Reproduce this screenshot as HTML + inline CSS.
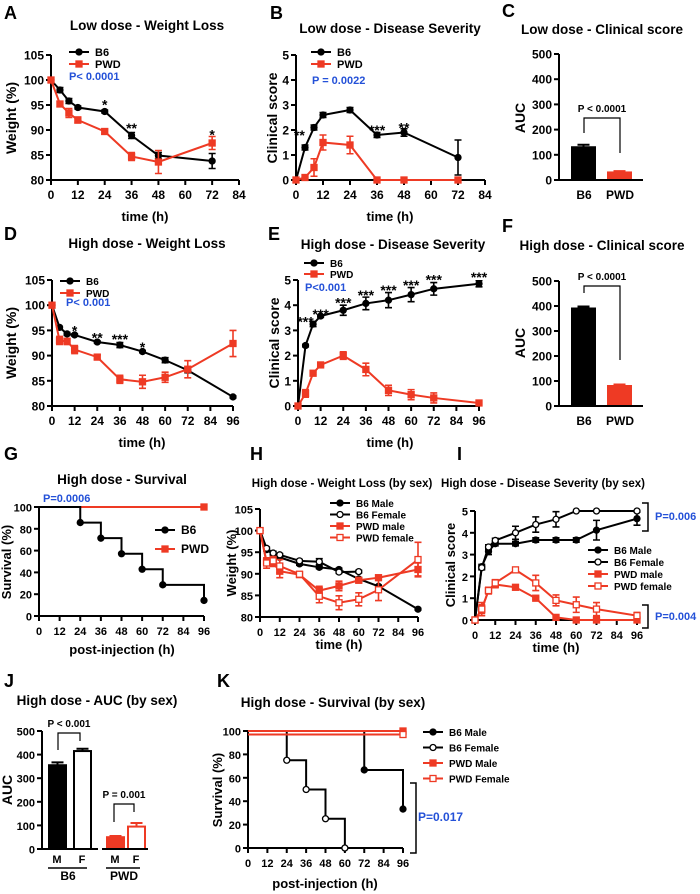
<!DOCTYPE html>
<html><head><meta charset="utf-8"><style>
html,body{margin:0;padding:0;background:#fff;}
svg{display:block;font-family:"Liberation Sans",Arial,sans-serif;font-weight:bold;}
</style></head><body>
<svg id="fig" width="700" height="894" viewBox="0 0 700 894" xmlns="http://www.w3.org/2000/svg"></svg>
<script>
const RED='#ee3a24', BLUE='#2451d8';
// ---- Panel A: Low dose weight loss
const aTimes=[0,4,8,12,24,36,48,72];
const aB6=[100,98,95.8,94.5,93.7,88.9,84.9,83.8];
const aB6Err=[0.2,0.5,0.5,0.3,0.3,0.6,0.6,1.5];
const aPWD=[100,95.2,93.4,92,89.7,84.7,83.6,87.4];
const aPWDErr=[0.2,0.5,0.9,0.6,0.5,0.8,2.3,1.3];
const aStarT=[24,36,72], aStarY=[95.3,90.6,89.3], aStarL=['*','**','*'];
// ---- Panel B: Low dose disease severity
const bTimes=[0,4,8,12,24,36,48,72];
const bB6=[0,1.3,2.1,2.6,2.8,1.8,1.9,0.9];
const bB6Err=[0,0.1,0.1,0.1,0.1,0.1,0.15,0.7];
const bPWD=[0,0.1,0.5,1.5,1.4,0,0,0];
const bPWDErr=[0,0.1,0.35,0.3,0.35,0,0,0];
const bStarT=[1.5,36,48], bStarY=[1.85,2.05,2.15], bStarL=['**','***','**'];
// ---- Panel C / F: AUC
const cCats=['B6','PWD'], cVals=[130,30], cErr=[10,5];
const fCats=['B6','PWD'], fVals=[390,80], fErr=[8,6];
// ---- Panel D: High dose weight loss
const dTimes=[0,4,8,12,24,36,48,60,72,96];
const dB6=[100,95.6,94.3,94.1,92.7,92.1,90.8,89.1,87.1,81.8];
const dB6Err=[0,0.2,0.3,0.2,0.2,0.5,0.2,0.5,0.5,0.2];
const dPWD=[100,93,92.8,91.2,89.7,85.3,84.8,85.7,87.3,92.4];
const dPWDErr=[0,0.8,0.6,0.8,0.4,0.8,1.3,1,1.7,2.6];
const dStarT=[12,24,36,48], dStarY=[95.2,93.8,93.5,91.9], dStarL=['*','**','***','*'];
// ---- Panel E: High dose disease severity
const eTimes=[0,4,8,12,24,36,48,60,72,96];
const eB6=[0,2.4,3.25,3.57,3.8,4.07,4.2,4.42,4.65,4.85];
const eB6Err=[0,0.05,0.1,0.05,0.2,0.25,0.3,0.28,0.25,0.12];
const ePWD=[0,0.5,1.3,1.63,2.0,1.45,0.62,0.45,0.32,0.12];
const ePWDErr=[0,0.15,0.05,0.05,0.15,0.25,0.2,0.2,0.2,0.1];
const eStarT=[4,12,24,36,48,60,72,96], eStarY=[3.4,3.7,4.15,4.45,4.65,4.85,5.05,5.15];
const eStarL=['***','***','***','***','***','***','***','***'];
// ---- Panel G: survival
const gTimes=[0,24,36,48,60,72,96];
const gB6=[100,85.7,71.4,57.1,42.9,28.6,14.3];
const gPWDTimes=[0,96], gPWD=[100,100];
// ---- Panel H: weight by sex
const hTimes=[0,4,8,12,24,36,48,60,72,96];
const hB6M=[100,95.6,94.5,93.8,92.3,91.5,91.0,88.8,87.1,81.8];
const hB6MErr=[0,0.3,0.5,0.4,0.3,0.3,0.3,0.3,0.3,0.2];
const hB6FTimes=[0,4,8,12,24,36,48,60];
const hB6F=[100,95.9,94.8,94.4,93.0,92.8,90.4,90.5];
const hB6FErr=[0,0.3,0.4,0.3,0.3,0.7,0.3,0.3];
const hPWDm=[100,92.8,92.5,90.6,89.8,86.1,87.2,88.5,89.1,91.0];
const hPWDmErr=[0,0.8,0.8,1.5,0.4,1.0,1.1,0.4,0.4,1.5];
const hPWDf=[100,92.5,93,91.8,89.9,84.8,83.3,84.1,86.3,93.3];
const hPWDfErr=[0,1.2,1,1.5,0.5,1.5,1.6,1.5,2.5,4];
// ---- Panel I: severity by sex
const iTimes=[0,4,8,12,24,36,48,60,72,96];
const iB6M=[0,2.45,3.15,3.5,3.5,3.67,3.67,3.67,4.12,4.65];
const iB6MErr=[0,0.1,0.15,0.1,0.1,0.1,0.1,0.1,0.45,0.3];
const iB6F=[0,2.4,3.35,3.65,4.0,4.38,4.62,5,5,5];
const iB6FErr=[0,0.1,0.1,0.1,0.3,0.35,0.35,0,0,0];
const iPWDm=[0,0.5,1.35,1.63,1.5,1.0,0.12,0,0,0];
const iPWDmErr=[0,0.2,0.15,0.15,0.05,0.05,0.1,0,0,0];
const iPWDf=[0,0.5,1.35,1.7,2.3,1.7,0.9,0.7,0.5,0.2];
const iPWDfErr=[0,0.3,0.15,0.15,0.08,0.35,0.25,0.35,0.3,0.15];
// ---- Panel J: AUC by sex
const jGroups=['M','F','M','F'], jVals=[355,415,50,95], jErr=[12,10,5,15];
// ---- Panel K: survival by sex
const kB6MTimes=[0,72,96], kB6M=[100,66.7,33.3];
const kB6FTimes=[0,24,36,48,60], kB6F=[100,75,50,25,0];
const kPWDMTimes=[0,96], kPWDM=[100,100];
const kPWDFTimes=[0,96], kPWDF=[97,97];

const NS='http://www.w3.org/2000/svg';
const svg=document.getElementById('fig');
function mk(tag,attrs,name,parent){
  const e=document.createElementNS(NS,tag);
  for(const k in attrs) e.setAttribute(k,attrs[k]);
  
  
  (parent||svg).appendChild(e);return e;
}
function txt(x,y,s,size,name,opt){
  opt=opt||{};
  const a={x:x,y:y,'font-size':size,fill:opt.fill||'#000','text-anchor':opt.anchor||'start'};
  if(opt.rot) a.transform='rotate(-90 '+x+' '+y+')';
  const t=mk('text',a,name,opt.parent);t.textContent=s;return t;
}
function axes(c){
  const g=mk('g',{},c.name+'-axes');
  const xs=v=>c.x0+(v-c.xmin)/(c.xmax-c.xmin)*(c.x1-c.x0);
  const ys=v=>c.yb-(v-c.ymin)/(c.ymax-c.ymin)*(c.yb-c.yt);
  if(c.xticks){
    mk('line',{x1:c.x0,x2:c.x1,y1:c.yb,y2:c.yb,stroke:'#000','stroke-width':2},c.name+'-x-axis',g);
    c.xticks.forEach(t=>{mk('line',{x1:xs(t),x2:xs(t),y1:c.yb,y2:c.yb+5,stroke:'#000','stroke-width':2},'x-tick',g);
      txt(xs(t),c.yb+19,String(t),c.tickSize||12,'x-tick-label',{anchor:'middle',parent:g});});
  }
  mk('line',{x1:c.x0,x2:c.x0,y1:c.yb,y2:c.yt,stroke:'#000','stroke-width':2},c.name+'-y-axis',g);
  c.yticks.forEach(t=>{mk('line',{x1:c.x0-5,x2:c.x0,y1:ys(t),y2:ys(t),stroke:'#000','stroke-width':2},'y-tick',g);
    txt(c.x0-7,ys(t)+4.5,String(t),c.tickSize||12,'y-tick-label',{anchor:'end',parent:g});});
  return {xs,ys,g};
}
function marker(x,y,type,color,parent,name){
  if(type==='circle'||type==='ocircle')
    mk('circle',{cx:x,cy:y,r:3,fill:type==='circle'?color:'#fff',stroke:color,'stroke-width':1.3},name,parent);
  else
    mk('rect',{x:x-3,y:y-3,width:6,height:6,fill:type==='square'?color:'#fff',stroke:color,'stroke-width':1.3},name,parent);
}
function series(ax,t,v,e,color,type,name){
  const g=mk('g',{},name);
  mk('polyline',{points:t.map((tt,i)=>ax.xs(tt)+','+ax.ys(v[i])).join(' '),fill:'none',stroke:color,'stroke-width':2},name+'-line',g);
  if(e) t.forEach((tt,i)=>{ if(!e[i]) return; const x=ax.xs(tt),y1=ax.ys(v[i]-e[i]),y2=ax.ys(v[i]+e[i]);
    mk('path',{d:`M${x},${y1}V${y2}M${x-3.5},${y1}H${x+3.5}M${x-3.5},${y2}H${x+3.5}`,stroke:color,'stroke-width':1.6,fill:'none'},name+'-errorbar',g);});
  t.forEach((tt,i)=>marker(ax.xs(tt),ax.ys(v[i]),type,color,g,name+'-point'));
}
function steps(ax,t,v,color,type,name,markFirst){
  const g=mk('g',{},name);
  let d='M'+ax.xs(t[0])+','+ax.ys(v[0]);
  for(let i=1;i<t.length;i++) d+='H'+ax.xs(t[i])+'V'+ax.ys(v[i]);
  mk('path',{d:d,fill:'none',stroke:color,'stroke-width':2},name+'-line',g);
  t.forEach((tt,i)=>{ if(i>0||markFirst) marker(ax.xs(tt),ax.ys(v[i]),type,color,g,name+'-point');});
}
function stars(ax,t,y,l,name){
  t.forEach((tt,i)=>txt(ax.xs(tt),ax.ys(y[i])+6,l[i],14,name,{anchor:'middle'}));
}
function legend(x,y,dy,items,size){
  items.forEach((it,i)=>{
    const yy=y+i*dy;
    mk('line',{x1:x,x2:x+20,y1:yy,y2:yy,stroke:it.c,'stroke-width':2},'legend-line-'+it.n,svg);
    marker(x+10,yy,it.m,it.c,svg,'legend-marker-'+it.n);
    txt(x+26,yy+4,it.l,size||11,'legend-entry-'+it.n);
  });
}
function barChart(c,cats,vals,errs,colors,fills){
  const ax=axes(c);
  cats.forEach((cat,i)=>{
    const bx=c.bx[i], w=c.bw;
    mk('rect',{x:bx,y:ax.ys(vals[i]),width:w,height:c.yb-ax.ys(vals[i]),fill:fills[i],stroke:colors[i],'stroke-width':2},'bar-'+cat.toLowerCase()+'-'+i);
    const cx=bx+w/2;
    mk('path',{d:`M${cx},${ax.ys(vals[i])}V${ax.ys(vals[i]+errs[i])}M${cx-6},${ax.ys(vals[i]+errs[i])}H${cx+6}`,stroke:colors[i],'stroke-width':2,fill:'none'},'bar-errorbar');
  });
  return ax;
}
// Letters & titles
[['A',4,19],['B',270,19],['C',502,17],['D',4,240],['E',268,240],['F',502,232],['G',4,460],['H',250,460],['I',457,460],['J',4,687],['K',217,687]]
 .forEach(l=>txt(l[1],l[2],l[0],18,'panel-letter-'+l[0].toLowerCase()));
[['Low dose - Weight Loss',147,30],['Low dose - Disease Severity',390,33],['Low dose - Clinical score',602,34],
 ['High dose - Weight Loss',147,248],['High dose - Disease Severity',393,249],['High dose - Clinical score',602,250],
 ['High dose - Survival',122,484],['High dose - Weight Loss (by sex)',342,487],['High dose - Disease Severity (by sex)',543,487],
 ['High dose - AUC (by sex)',97,705],['High dose - Survival (by sex)',333,707]]
 .forEach((t,i)=>txt(t[1],t[2],t[0],i===7||i===8?11.5:13.5,'panel-title',{anchor:'middle'}));

// A
let ax=axes({name:'a',x0:51,x1:239,xmin:0,xmax:84,yb:180,yt:55,ymin:80,ymax:105,xticks:[0,12,24,36,48,60,72,84],yticks:[80,85,90,95,100,105]});
series(ax,aTimes,aB6,aB6Err,'#000','circle','a-b6-series');
series(ax,aTimes,aPWD,aPWDErr,RED,'square','a-pwd-series');
stars(ax,aStarT,aStarY,aStarL,'a-significance');
legend(69,52,12,[{n:'b6',l:'B6',c:'#000',m:'circle'},{n:'pwd',l:'PWD',c:RED,m:'square'}]);
txt(69,80,'P< 0.0001',11,'a-p-value',{fill:BLUE});
txt(16,118,'Weight (%)',14,'a-y-axis-title',{anchor:'middle',rot:1});
txt(145,221,'time (h)',13,'a-x-axis-title',{anchor:'middle'});
// B
ax=axes({name:'b',x0:296,x1:485,xmin:0,xmax:84,yb:180,yt:55,ymin:0,ymax:5,xticks:[0,12,24,36,48,60,72,84],yticks:[0,1,2,3,4,5]});
series(ax,bTimes,bB6,bB6Err,'#000','circle','b-b6-series');
series(ax,bTimes,bPWD,bPWDErr,RED,'square','b-pwd-series');
stars(ax,bStarT,bStarY,bStarL,'b-significance');
legend(311,52,12,[{n:'b6',l:'B6',c:'#000',m:'circle'},{n:'pwd',l:'PWD',c:RED,m:'square'}]);
txt(312,84,'P = 0.0022',11,'b-p-value',{fill:BLUE});
txt(277,118,'Clinical score',14,'b-y-axis-title',{anchor:'middle',rot:1});
txt(390,221,'time (h)',13,'b-x-axis-title',{anchor:'middle'});
// C
ax=barChart({name:'c',x0:559,yb:180,yt:54,ymin:0,ymax:500,yticks:[0,100,200,300,400,500],bx:[572,608],bw:23},cCats,cVals,cErr,['#000',RED],['#000',RED]);
mk('line',{x1:559,x2:643,y1:180,y2:180,stroke:'#000','stroke-width':2},'c-x-axis');
txt(584,199,'B6',12,'c-x-label',{anchor:'middle'});txt(620,199,'PWD',12,'c-x-label',{anchor:'middle'});
mk('path',{d:'M584,133V118H620V153',fill:'none',stroke:'#000','stroke-width':1.2},'c-significance-bracket');
txt(602,112,'P < 0.0001',10,'c-p-value',{anchor:'middle'});
txt(525,118,'AUC',14,'c-y-axis-title',{anchor:'middle',rot:1});
// D
ax=axes({name:'d',x0:52,x1:233,xmin:0,xmax:96,yb:406,yt:280,ymin:80,ymax:105,xticks:[0,12,24,36,48,60,72,84,96],yticks:[80,85,90,95,100,105]});
series(ax,dTimes,dB6,dB6Err,'#000','circle','d-b6-series');
series(ax,dTimes,dPWD,dPWDErr,RED,'square','d-pwd-series');
stars(ax,dStarT,dStarY,dStarL,'d-significance');
legend(60,281,12,[{n:'b6',l:'B6',c:'#000',m:'circle'},{n:'pwd',l:'PWD',c:RED,m:'square'}],10);
txt(66,306,'P< 0.001',11,'d-p-value',{fill:BLUE});
txt(16,343,'Weight (%)',14,'d-y-axis-title',{anchor:'middle',rot:1});
txt(142,447,'time (h)',13,'d-x-axis-title',{anchor:'middle'});
// E
ax=axes({name:'e',x0:298,x1:479,xmin:0,xmax:96,yb:406,yt:280,ymin:0,ymax:5,xticks:[0,12,24,36,48,60,72,84,96],yticks:[0,1,2,3,4,5]});
series(ax,eTimes,eB6,eB6Err,'#000','circle','e-b6-series');
series(ax,eTimes,ePWD,ePWDErr,RED,'square','e-pwd-series');
stars(ax,eStarT,eStarY,eStarL,'e-significance');
legend(304,263,11,[{n:'b6',l:'B6',c:'#000',m:'circle'},{n:'pwd',l:'PWD',c:RED,m:'square'}],10);
txt(305,291,'P<0.001',11,'e-p-value',{fill:BLUE});
txt(279,343,'Clinical score',14,'e-y-axis-title',{anchor:'middle',rot:1});
txt(390,447,'time (h)',13,'e-x-axis-title',{anchor:'middle'});
// F
ax=barChart({name:'f',x0:559,yb:406,yt:281,ymin:0,ymax:500,yticks:[0,100,200,300,400,500],bx:[572,608],bw:23},fCats,fVals,fErr,['#000',RED],['#000',RED]);
mk('line',{x1:559,x2:643,y1:406,y2:406,stroke:'#000','stroke-width':2},'f-x-axis');
txt(584,425,'B6',12,'f-x-label',{anchor:'middle'});txt(620,425,'PWD',12,'f-x-label',{anchor:'middle'});
mk('path',{d:'M584,293V286H620V360',fill:'none',stroke:'#000','stroke-width':1.2},'f-significance-bracket');
txt(602,280,'P < 0.0001',10,'f-p-value',{anchor:'middle'});
txt(525,343,'AUC',14,'f-y-axis-title',{anchor:'middle',rot:1});
// G
ax=axes({name:'g',x0:39,x1:204,xmin:0,xmax:96,yb:616,yt:507,ymin:0,ymax:100,xticks:[0,12,24,36,48,60,72,84,96],yticks:[0,20,40,60,80,100],tickSize:11});
steps(ax,gPWDTimes,gPWD,RED,'square','g-pwd-series',false);
steps(ax,gTimes,gB6,'#000','circle','g-b6-series',false);
legend(155,530,19,[{n:'b6',l:'B6',c:'#000',m:'circle'},{n:'pwd',l:'PWD',c:RED,m:'square'}],12);
txt(43,502,'P=0.0006',11,'g-p-value',{fill:BLUE});
txt(11,562,'Survival (%)',13,'g-y-axis-title',{anchor:'middle',rot:1});
txt(122,654,'post-injection (h)',13,'g-x-axis-title',{anchor:'middle'});
// H
ax=axes({name:'h',x0:260,x1:418,xmin:0,xmax:96,yb:617,yt:509,ymin:80,ymax:105,xticks:[0,12,24,36,48,60,72,84,96],yticks:[80,85,90,95,100,105],tickSize:11});
series(ax,hTimes,hB6M,hB6MErr,'#000','circle','h-b6-male-series');
series(ax,hB6FTimes,hB6F,hB6FErr,'#000','ocircle','h-b6-female-series');
series(ax,hTimes,hPWDm,hPWDmErr,RED,'square','h-pwd-male-series');
series(ax,hTimes,hPWDf,hPWDfErr,RED,'osquare','h-pwd-female-series');
legend(330,503,11.5,[{n:'b6-male',l:'B6 Male',c:'#000',m:'circle'},{n:'b6-female',l:'B6 Female',c:'#000',m:'ocircle'},{n:'pwd-male',l:'PWD male',c:RED,m:'square'},{n:'pwd-female',l:'PWD female',c:RED,m:'osquare'}],10);
txt(236,563,'Weight (%)',13,'h-y-axis-title',{anchor:'middle',rot:1});
txt(339,649,'time (h)',13,'h-x-axis-title',{anchor:'middle'});
// I
ax=axes({name:'i',x0:475,x1:637,xmin:0,xmax:96,yb:620,yt:511,ymin:0,ymax:5,xticks:[0,12,24,36,48,60,72,84,96],yticks:[0,1,2,3,4,5],tickSize:11});
series(ax,iTimes,iB6M,iB6MErr,'#000','circle','i-b6-male-series');
series(ax,iTimes,iB6F,iB6FErr,'#000','ocircle','i-b6-female-series');
series(ax,iTimes,iPWDm,iPWDmErr,RED,'square','i-pwd-male-series');
series(ax,iTimes,iPWDf,iPWDfErr,RED,'osquare','i-pwd-female-series');
legend(588,550,12,[{n:'b6-male',l:'B6 Male',c:'#000',m:'circle'},{n:'b6-female',l:'B6 Female',c:'#000',m:'ocircle'},{n:'pwd-male',l:'PWD male',c:RED,m:'square'},{n:'pwd-female',l:'PWD female',c:RED,m:'osquare'}],10);
mk('path',{d:'M642,503H648V531H642',fill:'none',stroke:'#000','stroke-width':1.5},'i-bracket-b6');
mk('path',{d:'M642,605H648V628H642',fill:'none',stroke:'#000','stroke-width':1.5},'i-bracket-pwd');
txt(655,520,'P=0.006',11,'i-p-value-b6',{fill:BLUE});
txt(655,620,'P=0.004',11,'i-p-value-pwd',{fill:BLUE});
txt(455,565,'Clinical score',13,'i-y-axis-title',{anchor:'middle',rot:1});
txt(556,652,'time (h)',13,'i-x-axis-title',{anchor:'middle'});
// J
ax=barChart({name:'j',x0:42,yb:849,yt:731,ymin:0,ymax:500,yticks:[0,100,200,300,400,500],bx:[49,74,107,128],bw:17,tickSize:11},jGroups,jVals,jErr,['#000','#000',RED,RED],['#000','#fff',RED,'#fff']);
mk('line',{x1:42,x2:98,y1:849,y2:849,stroke:'#000','stroke-width':2},'j-x-axis-b6');
mk('line',{x1:102,x2:148,y1:849,y2:849,stroke:'#000','stroke-width':2},'j-x-axis-pwd');
[57,82,115,136].forEach((x,i)=>txt(x,863,jGroups[i],11,'j-sex-label',{anchor:'middle'}));
mk('line',{x1:48,x2:87,y1:868,y2:868,stroke:'#000','stroke-width':1.5},'j-group-line-b6');
mk('line',{x1:106,x2:140,y1:868,y2:868,stroke:'#000','stroke-width':1.5},'j-group-line-pwd');
txt(68,880,'B6',12,'j-group-label-b6',{anchor:'middle'});txt(124,880,'PWD',12,'j-group-label-pwd',{anchor:'middle'});
mk('path',{d:'M58,750V733H80V741',fill:'none',stroke:'#000','stroke-width':1.2},'j-bracket-b6');
mk('path',{d:'M114,822V804H134V812',fill:'none',stroke:'#000','stroke-width':1.2},'j-bracket-pwd');
txt(69,727,'P < 0.001',10,'j-p-value-b6',{anchor:'middle'});
txt(124,798,'P = 0.001',10,'j-p-value-pwd',{anchor:'middle'});
txt(12,790,'AUC',14,'j-y-axis-title',{anchor:'middle',rot:1});
// K
ax=axes({name:'k',x0:248,x1:403,xmin:0,xmax:96,yb:848,yt:731,ymin:0,ymax:100,xticks:[0,12,24,36,48,60,72,84,96],yticks:[0,20,40,60,80,100],tickSize:11});
steps(ax,kB6MTimes,kB6M,'#000','circle','k-b6-male-series',false);
steps(ax,kB6FTimes,kB6F,'#000','ocircle','k-b6-female-series',false);
steps(ax,kPWDMTimes,kPWDM,RED,'square','k-pwd-male-series',false);
steps(ax,kPWDFTimes,kPWDF,RED,'osquare','k-pwd-female-series',false);
legend(423,732,15.5,[{n:'b6-male',l:'B6 Male',c:'#000',m:'circle'},{n:'b6-female',l:'B6 Female',c:'#000',m:'ocircle'},{n:'pwd-male',l:'PWD Male',c:RED,m:'square'},{n:'pwd-female',l:'PWD Female',c:RED,m:'osquare'}],10);
mk('path',{d:'M410,783H416V853H410',fill:'none',stroke:'#000','stroke-width':1.5},'k-bracket');
txt(418,821,'P=0.017',12,'k-p-value',{fill:BLUE});
txt(222,790,'Survival (%)',13,'k-y-axis-title',{anchor:'middle',rot:1});
txt(325,888,'post-injection (h)',13,'k-x-axis-title',{anchor:'middle'});
</script>
</body></html>
